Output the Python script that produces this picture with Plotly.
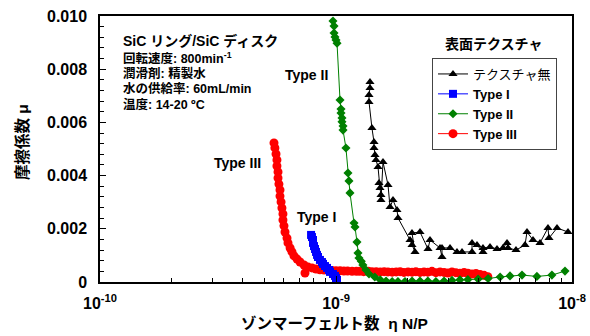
import plotly.graph_objects as go

# ---------------- data ----------------
# テクスチャ無 (no texture)
plain_eta = [1.393e-9, 1.393e-9, 1.380e-9, 1.380e-9, 1.420e-9, 1.449e-9, 1.449e-9, 1.463e-9,
             1.477e-9, 1.507e-9, 1.521e-9, 1.536e-9, 1.551e-9, 1.551e-9, 1.582e-9, 1.661e-9,
             1.694e-9, 1.744e-9, 1.813e-9, 1.831e-9, 2.059e-9, 2.099e-9, 2.162e-9, 2.099e-9,
             2.270e-9, 2.454e-9, 2.502e-9, 2.759e-9, 2.813e-9, 2.813e-9, 3.042e-9, 3.256e-9,
             3.420e-9, 3.770e-9, 3.770e-9, 3.958e-9, 4.196e-9, 4.196e-9, 4.493e-9, 4.811e-9,
             5.100e-9, 5.304e-9, 5.356e-9, 5.790e-9, 6.322e-9, 6.447e-9, 6.835e-9, 7.317e-9,
             7.911e-9, 7.989e-9, 8.639e-9, 9.618e-9]
plain_mu = [0.00752, 0.00729, 0.00703, 0.00677, 0.00579, 0.00526, 0.00504, 0.00477,
            0.00459, 0.00432, 0.00372, 0.00353, 0.00327, 0.00308, 0.00451, 0.00365,
            0.00282, 0.00308, 0.00271, 0.00241, 0.00158, 0.00139, 0.00113, 0.00184,
            0.00188, 0.00124, 0.00158, 0.00128, 0.00094, 0.00128, 0.00128, 0.00113,
            0.00113, 0.00113, 0.00147, 0.00139, 0.00113, 0.00128, 0.00132, 0.00124,
            0.00128, 0.00147, 0.00128, 0.00120, 0.00139, 0.00188, 0.00158, 0.00147,
            0.00203, 0.00165, 0.00203, 0.00188]

# Type I
t1_eta = [7.84e-10, 7.91e-10, 7.99e-10, 7.99e-10, 8.07e-10, 8.15e-10, 8.23e-10, 8.31e-10,
          8.39e-10, 8.55e-10, 8.72e-10, 8.81e-10, 8.98e-10, 9.16e-10, 9.34e-10, 9.43e-10,
          9.71e-10, 9.90e-10, 1.00e-9, 1.01e-9]
t1_mu = [0.00177, 0.00169, 0.00158, 0.00147, 0.00135, 0.00124, 0.00113, 0.00102,
         0.00094, 0.00083, 0.00075, 0.00068, 0.00060, 0.00053, 0.00045, 0.00038,
         0.00030, 0.00023, 0.00015, 0.00008]

# Type II
t2_eta = [0.971e-9, 0.981e-9, 0.981e-9, 0.990e-9, 1.000e-9, 1.010e-9, 1.040e-9, 1.050e-9,
          1.050e-9, 1.060e-9, 1.060e-9, 1.071e-9, 1.071e-9, 1.102e-9, 1.124e-9, 1.135e-9,
          1.146e-9, 1.192e-9, 1.204e-9, 1.227e-9, 1.239e-9, 1.251e-9, 1.28e-9, 1.30e-9,
          1.34e-9, 1.38e-9, 1.46e-9, 1.54e-9, 1.63e-9, 1.73e-9, 1.83e-9, 1.96e-9,
          2.10e-9, 2.27e-9, 2.45e-9, 2.65e-9, 2.87e-9, 3.10e-9, 3.35e-9, 3.62e-9,
          4.00e-9, 4.41e-9, 4.96e-9, 5.46e-9, 6.14e-9, 7.10e-9, 8.22e-9, 9.34e-9]
t2_mu = [0.00981, 0.00962, 0.00936, 0.00921, 0.00910, 0.00898, 0.00684, 0.00650,
         0.00635, 0.00617, 0.00602, 0.00586, 0.00571, 0.00504, 0.00410, 0.00380,
         0.00335, 0.00222, 0.00207, 0.00150, 0.00109, 0.00090, 0.00078, 0.00064,
         0.00045, 0.00030, 0.00019, 0.00008, 0.00004, 0.00002, 0.00002, 0.00002,
         0.00004, 0.00004, 0.00004, 0.00002, 0.00004, 0.00006, 0.00008, 0.00009,
         0.00011, 0.00013, 0.00019, 0.00023, 0.00026, 0.00021, 0.00026, 0.00041]

# Type III
t3_eta = [5.46e-10, 5.51e-10, 5.57e-10, 5.62e-10, 5.62e-10, 5.68e-10, 5.68e-10, 5.73e-10,
          5.79e-10, 5.79e-10, 5.85e-10, 5.90e-10, 5.96e-10, 5.96e-10, 6.02e-10, 6.08e-10,
          6.20e-10, 6.26e-10, 6.39e-10, 6.51e-10, 6.64e-10, 6.84e-10, 7.04e-10, 7.32e-10,
          7.39e-10, 7.61e-10, 7.91e-10, 8.23e-10, 8.55e-10, 8.90e-10, 9.25e-10, 9.62e-10,
          1.00e-9, 1.04e-9, 1.08e-9, 1.12e-9, 1.17e-9, 1.22e-9, 1.26e-9, 1.31e-9,
          1.37e-9, 1.42e-9, 1.48e-9, 1.54e-9, 1.60e-9, 1.66e-9, 1.73e-9, 1.80e-9,
          1.87e-9, 1.94e-9, 2.02e-9, 2.10e-9, 2.18e-9, 2.27e-9, 2.36e-9, 2.45e-9,
          2.55e-9, 2.65e-9, 2.76e-9, 2.87e-9, 2.98e-9, 3.10e-9, 3.22e-9, 3.35e-9,
          3.49e-9, 3.62e-9, 3.77e-9, 3.92e-9, 4.08e-9, 4.24e-9, 4.40e-9]
t3_mu = [0.00523, 0.00504, 0.00481, 0.00459, 0.00436, 0.00414, 0.00391, 0.00368,
         0.00346, 0.00323, 0.00301, 0.00278, 0.00256, 0.00233, 0.00211, 0.00188,
         0.00165, 0.00147, 0.00128, 0.00113, 0.00098, 0.00086, 0.00075, 0.00064,
         0.00034, 0.00056, 0.00053, 0.00049, 0.00046, 0.00045, 0.00044, 0.00043,
         0.00042, 0.00042, 0.00041, 0.00041, 0.00040, 0.00040, 0.00040, 0.00039,
         0.00040, 0.00039, 0.00039, 0.00038, 0.00039, 0.00038, 0.00037, 0.00038,
         0.00039, 0.00036, 0.00038, 0.00037, 0.00039, 0.00036, 0.00038, 0.00037,
         0.00040, 0.00035, 0.00038, 0.00036, 0.00034, 0.00038, 0.00035, 0.00033,
         0.00036, 0.00033, 0.00030, 0.00032, 0.00028, 0.00025, 0.00020]

x_tickvals = [1e-10, 1e-9, 1e-8]
x_ticktext = ["<b>10<sup>-10</sup></b>", "<b>10<sup>-9</sup></b>", "<b>10<sup>-8</sup></b>"]
y_tickvals = [0, 0.002, 0.004, 0.006, 0.008, 0.010]
y_ticktext = ["<b>0</b>", "<b>0.002</b>", "<b>0.004</b>", "<b>0.006</b>", "<b>0.008</b>", "<b>0.010</b>"]

FONT = "Liberation Sans, Arial, Noto Sans CJK JP, sans-serif"

fig = go.Figure()
fig.add_trace(go.Scatter(x=t3_eta, y=t3_mu, mode="lines+markers", name="<b>Type III</b>",
                         line=dict(color="#ff0000", width=1),
                         marker=dict(symbol="circle", size=9, color="#ff0000"), legendrank=4))
fig.add_trace(go.Scatter(x=t2_eta, y=t2_mu, mode="lines+markers", name="<b>Type II</b>",
                         line=dict(color="#008000", width=1),
                         marker=dict(symbol="diamond", size=7, color="#008000"), legendrank=3))
fig.add_trace(go.Scatter(x=t1_eta, y=t1_mu, mode="lines+markers", name="<b>Type I</b>",
                         line=dict(color="#0000ff", width=1),
                         marker=dict(symbol="square", size=8, color="#0000ff"), legendrank=2))
fig.add_trace(go.Scatter(x=plain_eta, y=plain_mu, mode="lines+markers", name="テクスチャ無",
                         line=dict(color="#000000", width=1),
                         marker=dict(symbol="triangle-up", size=8, color="#000000"), legendrank=1))

ann = []
def txt(s, x, y, size, xanchor="left", **kw):
    ann.append(dict(text=s, x=x, y=y, xref="paper", yref="paper", showarrow=False,
                    xanchor=xanchor, yanchor="middle", font=dict(size=size, color="black", family=FONT), **kw))

W, H = 472.0, 266.0
def px(xp):
    return (xp - 100) / W
def py(yp):
    return (282 - yp) / H

txt("<b>SiC リング/SiC ディスク</b>", px(121), py(41), 14)
txt("<b>回転速度: 800min<sup>-1</sup></b>", px(121), py(58), 12.5)
txt("<b>潤滑剤: 精製水</b>", px(121), py(73), 12.5)
txt("<b>水の供給率: 60mL/min</b>", px(121), py(88.5), 12.5)
txt("<b>温度: 14-20 ºC</b>", px(121), py(104), 12.5)
txt("<b>Type II</b>", px(306), py(75), 14, xanchor="center")
txt("<b>Type III</b>", px(237), py(163), 14, xanchor="center")
txt("<b>Type I</b>", px(316), py(217), 14, xanchor="center")
txt("<b>表面テクスチャ</b>", px(493), py(44), 14, xanchor="center")
txt("<b>ゾンマーフェルト数  η N/P</b>", px(334), py(323), 15.5, xanchor="center")
txt("<b>摩擦係数 μ</b>", px(22), py(142), 15.5, xanchor="center", textangle=-90)

fig.update_layout(
    width=590, height=336,
    margin=dict(l=100, r=18, t=16, b=54),
    paper_bgcolor="white", plot_bgcolor="white",
    font=dict(family=FONT, color="black", size=14),
    showlegend=True,
    legend=dict(x=px(432), y=py(58), xanchor="left", yanchor="top",
                bgcolor="white", bordercolor="#444444", borderwidth=1,
                font=dict(size=13, family=FONT, color="black"),
                itemwidth=30, tracegroupgap=0),
    annotations=ann,
)
fig.update_xaxes(type="log", range=[-10, -8], tickvals=x_tickvals, ticktext=x_ticktext,
                 automargin=False,
                 ticks="inside", ticklen=6, tickcolor="black", tickwidth=1,
                 showline=True, linecolor="black", linewidth=1.5, mirror=True,
                 showgrid=False, zeroline=False, ticklabelstandoff=6,
                 tickfont=dict(size=16, family=FONT, color="black"),
                 minor=dict(ticks="inside", ticklen=4, tickcolor="black", dtick="D1", showgrid=False))
fig.update_yaxes(range=[0, 0.010], tickvals=y_tickvals, ticktext=y_ticktext,
                 automargin=False,
                 ticks="inside", ticklen=6, tickcolor="black", tickwidth=1,
                 showline=True, linecolor="black", linewidth=1.5, mirror=True,
                 showgrid=False, zeroline=False, ticklabelstandoff=8,
                 tickfont=dict(size=16, family=FONT, color="black"),
                 minor=dict(ticks="inside", ticklen=4, tickcolor="black", dtick=0.0004, showgrid=False))

fig.write_html("out.html", config={"displayModeBar": False},
               post_script="document.body.style.margin='0';document.body.style.overflow='hidden';")
